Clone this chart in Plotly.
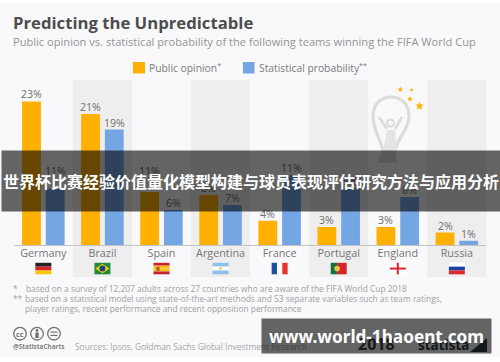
import plotly.graph_objects as go
import math

W, H = 500, 362

# ---- data ----
teams = ["Germany", "Brazil", "Spain", "Argentina", "France", "Portugal", "England", "Russia"]
public_opinion = [23, 21, 8.5, 8, 3.9, 2.9, 2.9, 2]
statistical_probability = [9, 18.5, 5.6, 6.4, 11.2, 9.1, 7.7, 0.7]
public_labels = ["23%", "21%", "11%", "8%", "4%", "3%", "3%", "2%"]
stat_labels = ["11%", "19%", "6%", "7%", "11%", "9%", "8%", "1%"]
# level in data units at which each value label sits
public_label_level = [23, 21, 10.8, 8, 3.9, 2.9, 2.9, 2]
stat_label_level = [10.66, 18.5, 5.6, 6.4, 11.2, 9.1, 7.7, 0.7]

ORANGE = "#ffb000"
BLUE = "#74a6e3"
BG = "#f9f9fb"
BAND = "#eeeeee"
TXT = "#6e6e6e"
FONT = "Open Sans"

# layout helpers (pixel → paper)
def px(x): return x / W
def py(y): return 1 - y / H

PLOT_L, PLOT_R, PLOT_T, PLOT_B = 13.8, 486.4, 80, 245
STEP = (PLOT_R - PLOT_L) / 8
def cx(i): return PLOT_L + STEP * (i + 0.5)

shapes, ann = [], []

def rect(x0, y0, x1, y1, color, layer="below", line=None):
    shapes.append(dict(type="rect", xref="paper", yref="paper", x0=px(x0), x1=px(x1),
                       y0=py(y0), y1=py(y1), fillcolor=color, layer=layer,
                       line=dict(width=0) if line is None else line))

def path(d_pts, color=None, line=None, layer="below"):
    d = ""
    for tok in d_pts:
        if isinstance(tok, str):
            d += tok + " "
        else:
            d += f"{px(tok[0]):.5f},{py(tok[1]):.5f} "
    shapes.append(dict(type="path", xref="paper", yref="paper", path=d, layer=layer,
                       fillcolor=color or "rgba(0,0,0,0)",
                       line=line or dict(width=0)))

def circle(x, y, r, fill="rgba(0,0,0,0)", line=None, layer="below"):
    shapes.append(dict(type="circle", xref="paper", yref="paper", x0=px(x - r), x1=px(x + r),
                       y0=py(y + r), y1=py(y - r), fillcolor=fill, layer=layer,
                       line=line or dict(width=0)))

def text(x, y, s, size, color=TXT, anchor="left", font=FONT, **kw):
    ann.append(dict(xref="paper", yref="paper", x=px(x), y=py(y), text=s, showarrow=False,
                    xanchor=anchor, yanchor="middle",
                    font=dict(size=size, color=color, family=font),
                    borderpad=0, borderwidth=0, **kw))

# page background
rect(0, 3, 500, 357, BG)

# alternating bands
for i in (1, 3, 5, 7):
    rect(cx(i) - STEP / 2, 80, cx(i) + STEP / 2, 277, BAND)

# trophy watermark
GREY = "#dcdcdc"
tl = dict(color=GREY, width=3.2)
path(["M", (383, 151), "C", (381, 140), (373, 130), (373, 116), "C", (373, 104), (381, 97), (391, 97),
      "C", (401, 97), (409, 104), (409, 116), "C", (409, 130), (397, 138), (395, 151)], line=tl)
path(["M", (379, 117), "L", (387, 129), "M", (395, 129), "L", (402, 117)], line=dict(color=GREY, width=3))
circle(390.5, 123, 3.5, line=dict(color=GREY, width=2.2))
path(["M", (387, 130), "L", (383, 152), "L", (397, 152), "L", (395, 130), "Z"], color="#e4e4e4")
path(["M", (384, 150), "L", (380, 156), "L", (378, 163), "L", (397, 163), "L", (396, 156), "L", (396, 150), "Z"], color=GREY)

# stars
def star(x, y, r):
    pts = []
    for k in range(10):
        a = -math.pi / 2 + k * math.pi / 5
        rr = r if k % 2 == 0 else r * 0.42
        pts.append((x + rr * math.cos(a), y + rr * math.sin(a)))
    tokens = ["M", pts[0]]
    for p in pts[1:]:
        tokens += ["L", p]
    tokens.append("Z")
    path(tokens, color=ORANGE)

star(400.3, 89.5, 3)
star(411.5, 90, 2.2)
star(410, 99, 3)
star(419.5, 106, 4.5)

# legend
rect(133, 62, 145, 73.5, ORANGE, layer="above")
rect(243, 62, 254.5, 73.5, BLUE, layer="above")
text(149, 67.5, "Public opinion<sup>*</sup>", 10.3, "#7a7a7a")
text(259, 67.5, "Statistical probability<sup>**</sup>", 10.3, "#7a7a7a")

# titles
text(13, 22.5, "<b>Predicting the Unpredictable</b>", 16.7, "#4d4d4d")
text(13, 41.5, "Public opinion vs. statistical probability of the following teams winning the FIFA World Cup", 11.1, "#949494")

# flags
FW, FH = 16, 11.5
FT = 262.8
def flag_stripes(i, colors, vertical=False):
    x0 = cx(i) - FW / 2
    n = len(colors)
    for k, c in enumerate(colors):
        if vertical:
            rect(x0 + FW * k / n, FT, x0 + FW * (k + 1) / n, FT + FH, c, layer="above")
        else:
            rect(x0, FT + FH * k / n, x0 + FW, FT + FH * (k + 1) / n, c, layer="above")

flag_stripes(0, ["#222222", "#d8232a", "#f7c600"])
flag_stripes(1, ["#1f8a3c"])
path(["M", (cx(1) - 7, FT + FH / 2), "L", (cx(1), FT + 1), "L", (cx(1) + 7, FT + FH / 2), "L", (cx(1), FT + FH - 1), "Z"], color="#f2d400", layer="above")
circle(cx(1), FT + FH / 2, 3, fill="#1c3f8c", layer="above")
flag_stripes(2, ["#c8202c", "#f5bf1d", "#f5bf1d", "#c8202c"])
rect(cx(2) - 5, FT + 4, cx(2) - 2, FT + 8, "#b5531c", layer="above")
flag_stripes(3, ["#8fc0ea", "#ffffff", "#8fc0ea"])
circle(cx(3), FT + FH / 2, 1.3, fill="#f2c230", layer="above")
flag_stripes(4, ["#1f4f9c", "#ffffff", "#e4352f"], vertical=True)
rect(cx(5) - 8, FT, cx(5) - 1.6, FT + FH, "#12723f", layer="above")
rect(cx(5) - 1.6, FT, cx(5) + 8, FT + FH, "#d8232a", layer="above")
circle(cx(5) - 1.6, FT + FH / 2, 2.8, fill="#e6c44a", layer="above")
rect(cx(6) - 8, FT, cx(6) + 8, FT + FH, "#ffffff", layer="above")
rect(cx(6) - 8, FT + FH / 2 - 1, cx(6) + 8, FT + FH / 2 + 1, "#d8232a", layer="above")
rect(cx(6) - 1, FT, cx(6) + 1, FT + FH, "#d8232a", layer="above")
flag_stripes(7, ["#ffffff", "#1f3fa8", "#dd2a2a"])

# footnotes
FN = "#a0a0a0"
FS = 8.4
text(13, 288, "*", FS, FN)
text(25.5, 288, "based on a survey of 12,207 adults across 27 countries who are aware of the FIFA World Cup 2018", FS, FN)
text(13, 298, "**", FS, FN)
text(25, 298, "based on a statistical model using state-of-the-art methods and 53 separate variables such as team ratings,", FS, FN)
text(25, 308, "player ratings, recent performance and recent opposition performance", FS, FN)

# licence icons and source
cl = dict(color="#707070", width=1.3)
for xc in (20, 37, 54):
    circle(xc, 333.7, 6.3, line=cl)
text(20, 333.5, "<b>cc</b>", 7.5, "#707070", anchor="center")
circle(37, 330.5, 1.4, fill="#707070")
rect(35.3, 332.5, 38.7, 338, "#707070")
rect(50.5, 331.5, 57.5, 332.7, "#707070")
rect(50.5, 334.8, 57.5, 336, "#707070")
text(13, 346.3, "<b>@StatistaCharts</b>", 6.4, "#808080")
text(75, 346, "Sources: Ipsos, Goldman Sachs Global Investment Research", FS, "#a5a5a5")

# logos, under the bottom banner
text(358, 344, "<b>2018</b>", 16, "#3c3c3c")
text(418, 345, "<b>statista</b>", 13.5, "#2d3a48")
path(["M", (470, 352), "L", (487, 352), "L", (487, 338), "Z"], color="#2d3a48", layer="above")

# value labels, drawn from the data
def value_label(i, level, label, shift):
    ann.append(dict(xref="x", yref="y", x=i, y=level, text=label, showarrow=False, xshift=shift,
                    xanchor="center", yanchor="bottom", yshift=-1,
                    font=dict(size=10.6, color=TXT, family=FONT), borderpad=0))

for i in range(len(teams)):
    value_label(i, public_label_level[i], public_labels[i], -11.85)
    value_label(i, stat_label_level[i], stat_labels[i], 11.85)

# banners (last, so they sit above everything else)
ann.append(dict(xref="paper", yref="paper", x=px(251), y=py(181), width=498, height=60,
                text="<b>世界杯比赛经验价值量化模型构建与球员表现评估研究方法与应用分析</b>",
                showarrow=False, xanchor="center", yanchor="middle", align="center", valign="middle",
                bgcolor="rgba(0,0,0,0.6)", borderpad=0,
                font=dict(size=16, color="#ffffff", family="Noto Sans CJK SC")))
ann.append(dict(xref="paper", yref="paper", x=px(376.4), y=py(336), width=229, height=34,
                text="<b>www.world-1haoent.com</b>",
                showarrow=False, xanchor="center", yanchor="middle", align="center", valign="middle",
                bgcolor="rgba(0,0,0,0.6)", borderpad=0,
                font=dict(size=17.2, color="#ffffff", family="Noto Sans")))

fig = go.Figure()
fig.add_bar(name="Public opinion*", x=teams, y=public_opinion, marker=dict(color=ORANGE, line_width=0))
fig.add_bar(name="Statistical probability**", x=teams, y=statistical_probability, marker=dict(color=BLUE, line_width=0))

fig.update_layout(
    width=W, height=H, autosize=False,
    margin=dict(l=0, r=0, t=0, b=0, pad=0),
    paper_bgcolor="#ffffff", plot_bgcolor="rgba(0,0,0,0)",
    barmode="group", bargap=0.1975, bargroupgap=0.207,
    showlegend=False, shapes=shapes, annotations=ann,
    font=dict(family=FONT, color=TXT),
    xaxis=dict(domain=[px(PLOT_L), px(PLOT_R)], type="category", categoryorder="array", categoryarray=teams,
               showgrid=False, zeroline=False, showline=True, linecolor="#c4c4c4", linewidth=1,
               ticks="", ticklabelstandoff=-2, tickfont=dict(size=10.8, color="#757575", family=FONT),
               fixedrange=True),
    yaxis=dict(domain=[py(PLOT_B), py(PLOT_T)], range=[0, 165 / 6.24], visible=False, fixedrange=True),
)

fig.write_html("out.html", config=dict(displayModeBar=False),
               post_script="document.body.style.margin='0';document.documentElement.style.overflow='hidden';")
